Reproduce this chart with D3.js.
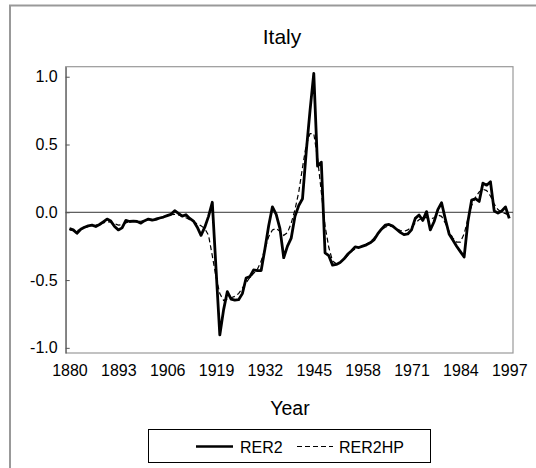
<!DOCTYPE html>
<html>
<head>
<meta charset="utf-8">
<script src="https://cdn.jsdelivr.net/npm/d3@7"></script>
<style>
  body { margin: 0; background: #fff; }
  text { font-family: "Liberation Sans", Arial, sans-serif; fill: #000; }
</style>
</head>
<body>
<svg id="chart" width="536" height="468"></svg>
<script>
// years 1880..1997
const firstYear = 1880;
const rer2 = [
  -0.12, -0.13, -0.155, -0.125, -0.11, -0.10, -0.095, -0.105, -0.09, -0.07,   // 1880s
  -0.05, -0.065, -0.105, -0.13, -0.115, -0.06, -0.068, -0.065, -0.068, -0.08, // 1890s
  -0.062, -0.05, -0.058, -0.052, -0.042, -0.035, -0.025, -0.015, 0.012, -0.008, // 1900s
  -0.028, -0.018, -0.045, -0.065, -0.11, -0.17, -0.11, -0.03, 0.074, -0.42,   // 1910s
  -0.905, -0.72, -0.585, -0.64, -0.648, -0.645, -0.60, -0.485, -0.475, -0.425, // 1920s
  -0.43, -0.43, -0.27, -0.10, 0.04, -0.015, -0.12, -0.335, -0.25, -0.19,      // 1930s
  -0.03, 0.05, 0.10, 0.45, 0.75, 1.025, 0.34, 0.37, -0.30, -0.32,             // 1940s
  -0.39, -0.385, -0.37, -0.345, -0.31, -0.285, -0.255, -0.26, -0.25, -0.24,   // 1950s
  -0.225, -0.204, -0.16, -0.125, -0.095, -0.09, -0.102, -0.125, -0.148, -0.165, // 1960s
  -0.16, -0.13, -0.045, -0.02, -0.06, 0.005, -0.13, -0.07, 0.02, 0.07,        // 1970s
  -0.05, -0.16, -0.205, -0.25, -0.29, -0.33, -0.07, 0.09, 0.10, 0.08,         // 1980s
  0.215, 0.20, 0.225, 0.01, -0.005, 0.01, 0.04, -0.045                        // 1990s
];
const rer2hp = [
  -0.13, -0.135, -0.135, -0.125, -0.115, -0.105, -0.10, -0.095, -0.088, -0.078,
  -0.07, -0.072, -0.085, -0.095, -0.09, -0.078, -0.07, -0.066, -0.066, -0.066,
  -0.06, -0.055, -0.05, -0.045, -0.04, -0.033, -0.025, -0.018, -0.015, -0.02,
  -0.03, -0.04, -0.055, -0.07, -0.085, -0.10, -0.12, -0.17, -0.32, -0.48,
  -0.60, -0.65, -0.64, -0.63, -0.62, -0.60, -0.56, -0.52, -0.48, -0.45,
  -0.42, -0.36, -0.27, -0.18, -0.13, -0.12, -0.14, -0.17, -0.15, -0.08,
  0.02, 0.15, 0.33, 0.50, 0.58, 0.58, 0.40, 0.15, -0.10, -0.26,
  -0.36, -0.38, -0.37, -0.35, -0.32, -0.29, -0.27, -0.26, -0.25, -0.235,
  -0.22, -0.19, -0.16, -0.13, -0.11, -0.10, -0.105, -0.12, -0.135, -0.14,
  -0.13, -0.11, -0.08, -0.055, -0.04, -0.04, -0.05, -0.04, -0.02, -0.03,
  -0.08, -0.14, -0.19, -0.22, -0.22, -0.16, -0.05, 0.05, 0.11, 0.15,
  0.17, 0.16, 0.12, 0.06, 0.02, 0.0, -0.01, -0.02
];
const xTicks = [1880, 1893, 1906, 1919, 1932, 1945, 1958, 1971, 1984, 1997];
const yTicks = [-1.0, -0.5, 0.0, 0.5, 1.0];

const svg = d3.select('#chart');

// outer frame (only left and top edges show)
svg.append('rect')
  .attr('x', 10).attr('y', 5.5)
  .attr('width', 560).attr('height', 500)
  .attr('fill', 'none')
  .attr('stroke', '#999')
  .attr('stroke-width', 2);

const plot = { left: 65.7, right: 513, top: 66.7, bottom: 353 };

const x = d3.scaleLinear().domain([1879, 1998]).range([plot.left, plot.right]);
const y = d3.scaleLinear().domain([-1.038, 1.074]).range([plot.bottom, plot.top]);

// plot frame
svg.append('rect')
  .attr('x', plot.left).attr('y', plot.top)
  .attr('width', plot.right - plot.left).attr('height', plot.bottom - plot.top)
  .attr('fill', 'none')
  .attr('stroke', '#999')
  .attr('stroke-width', 1.2);

// zero line
svg.append('line')
  .attr('x1', plot.left).attr('x2', plot.right)
  .attr('y1', y(0)).attr('y2', y(0))
  .attr('stroke', '#333').attr('stroke-width', 1);

// y axis, ticks pointing inward
const yAxis = d3.axisLeft(y)
  .tickValues(yTicks)
  .tickFormat(d3.format('.1f'))
  .tickSizeInner(-4)
  .tickSizeOuter(0)
  .tickPadding(8);

const gy = svg.append('g')
  .attr('transform', 'translate(' + plot.left + ',0)')
  .call(yAxis);
gy.select('.domain').attr('stroke', '#555');
gy.selectAll('.tick line').attr('stroke', '#555');
gy.selectAll('.tick text')
  .attr('font-size', '16px')
  .attr('font-family', '"Liberation Sans", Arial, sans-serif')
  .attr('fill', '#000')
  .text(d => d3.format('.1f')(d).replace('−', '-'));

// x axis, labels only
const xAxis = d3.axisBottom(x)
  .tickValues(xTicks)
  .tickFormat(d3.format('d'))
  .tickSize(0)
  .tickPadding(12);

const gx = svg.append('g')
  .attr('transform', 'translate(0,' + plot.bottom + ')')
  .call(xAxis);
gx.select('.domain').remove();
gx.selectAll('.tick text')
  .attr('font-size', '16px')
  .attr('font-family', '"Liberation Sans", Arial, sans-serif')
  .attr('fill', '#000');

// series
const years = rer2.map((d, i) => firstYear + i);

const line = d3.line()
  .x((d, i) => x(years[i]))
  .y(d => y(d));

svg.append('path')
  .datum(rer2hp)
  .attr('d', line)
  .attr('fill', 'none')
  .attr('stroke', '#000')
  .attr('stroke-width', 1.2)
  .attr('stroke-dasharray', '5,3');

svg.append('path')
  .datum(rer2)
  .attr('d', line)
  .attr('fill', 'none')
  .attr('stroke', '#000')
  .attr('stroke-width', 2.8)
  .attr('stroke-linejoin', 'round');

// title and x label
svg.append('text')
  .attr('x', 282).attr('y', 43.5)
  .attr('text-anchor', 'middle')
  .attr('font-size', '21px')
  .text('Italy');

svg.append('text')
  .attr('x', 290).attr('y', 415)
  .attr('text-anchor', 'middle')
  .attr('font-size', '19.5px')
  .text('Year');

// legend
const legend = svg.append('g');
legend.append('rect')
  .attr('x', 148.5).attr('y', 429.5)
  .attr('width', 282).attr('height', 33)
  .attr('fill', '#fff')
  .attr('stroke', '#000')
  .attr('stroke-width', 1);

legend.append('line')
  .attr('x1', 196).attr('x2', 233)
  .attr('y1', 446.5).attr('y2', 446.5)
  .attr('stroke', '#000').attr('stroke-width', 2.4);
legend.append('text')
  .attr('x', 240).attr('y', 452.7)
  .attr('font-size', '16px')
  .text('RER2');

legend.append('line')
  .attr('x1', 297).attr('x2', 333)
  .attr('y1', 446.5).attr('y2', 446.5)
  .attr('stroke', '#000').attr('stroke-width', 1.2)
  .attr('stroke-dasharray', '5,3');
legend.append('text')
  .attr('x', 339).attr('y', 452.7)
  .attr('font-size', '16px')
  .text('RER2HP');
</script>
</body>
</html>
